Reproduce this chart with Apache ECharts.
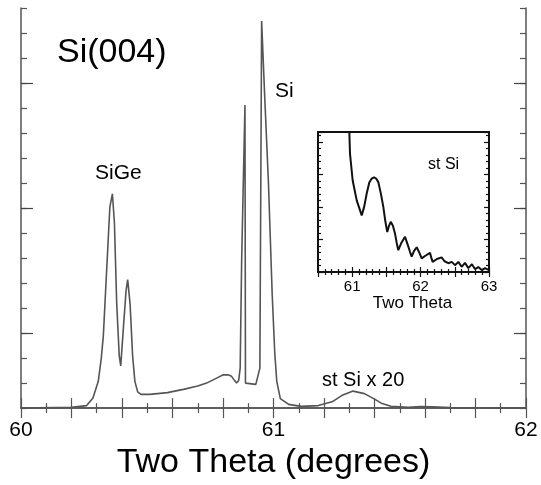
<!DOCTYPE html>
<html><head><meta charset="utf-8">
<script src="https://cdn.jsdelivr.net/npm/echarts@6/dist/echarts.min.js"></script>
<style>html,body{margin:0;padding:0;background:#fff}#c{width:541px;height:485px}</style>
</head><body><div id="c"></div>
<script>
// Main scan: two-theta (degrees) and intensity (arbitrary units)
const mainX = [60.00,60.20,60.26,60.285,60.306,60.318,60.326,60.339,60.352,60.362,60.37,60.379,60.389,60.395,60.405,60.416,60.4225,60.432,60.442,60.451,60.462,60.475,60.51,60.58,60.643,60.70,60.735,60.775,60.801,60.82,60.834,60.846,60.854,60.862,60.868,60.874,60.887,60.889,60.93,60.946,60.953,60.965,60.98,60.995,61.005,61.013,61.027,61.06,61.109,61.177,61.232,61.27,61.315,61.36,61.397,61.43,61.465,61.534,61.58,61.63,61.70,62.00];
const mainY = [0.0,0.03,0.1,0.4,1.07,2.0,2.88,5.47,8.05,8.57,7.4,4.19,2.1,1.69,3.14,4.69,5.14,4.17,2.1,1.07,0.65,0.55,0.55,0.62,0.75,0.88,1.0,1.2,1.33,1.33,1.27,1.1,1.0,1.1,1.6,5.98,12.12,1.0,0.95,1.6,15.48,12.5,9.0,4.5,2.2,1.07,0.38,0.15,0.07,0.1,0.25,0.5,0.68,0.58,0.38,0.18,0.07,0.03,0.06,0.05,0.02,0.0];
// Inset: st Si fringes
const insetX = [60.95,60.958,60.968,61.007,61.066,61.139,61.175,61.212,61.25,61.285,61.319,61.35,61.382,61.42,61.455,61.485,61.513,61.535,61.563,61.595,61.626,61.65,61.674,61.72,61.772,61.81,61.845,61.869,61.905,61.943,61.98,62.016,62.07,62.137,62.155,62.176,62.24,62.307,62.35,62.405,62.455,62.503,62.552,62.60,62.649,62.698,62.75,62.795,62.844,62.893,62.942,63.0];
const insetY = [5.0,4.3,3.63,2.81,2.2,1.74,2.0,2.41,2.75,2.87,2.91,2.87,2.76,2.4,2.0,1.55,1.23,1.4,1.54,1.42,1.18,0.9,0.67,0.9,1.08,0.85,0.62,0.47,0.65,0.76,0.6,0.42,0.5,0.59,0.45,0.31,0.4,0.45,0.33,0.27,0.31,0.21,0.31,0.16,0.28,0.12,0.24,0.09,0.15,0.06,0.12,0.06];
const mainXLabels = [60, 61, 62];
const insetXLabels = [61, 62, 63];
const mainLongYTicks = [3, 8, 13];

const FONT = '"Liberation Sans", Arial, Helvetica, sans-serif';
const chart = echarts.init(document.getElementById('c'));

function xAx(grid, pos, min, max, interval, tickLen, minorLen, minorSplit, labels, fs, margin, lc, lw) {
  return {
    type: 'value', gridIndex: grid, position: pos, min: min, max: max, interval: interval,
    axisLine: {show: true, lineStyle: {color: lc, width: lw}}, splitLine: {show: false},
    axisTick: {show: true, inside: true, length: tickLen, lineStyle: {color: lc, width: 1.2}},
    minorTick: {show: true, splitNumber: minorSplit, length: minorLen, lineStyle: {color: lc, width: 1.2}},
    axisLabel: labels ? {show: true, fontFamily: FONT, fontSize: fs, color: '#000', margin: margin,
      showMinLabel: true, showMaxLabel: true,
      formatter: v => labels.indexOf(Math.round(v * 1000) / 1000) >= 0 ? String(Math.round(v)) : ''} : {show: false}
  };
}
function yAx(grid, pos, min, max, interval, tickLen, minorLen, minorSplit, lc, lw) {
  return {
    type: 'value', gridIndex: grid, position: pos, min: min, max: max, interval: interval,
    axisLine: {show: true, lineStyle: {color: lc, width: lw}}, splitLine: {show: false}, axisLabel: {show: false},
    axisTick: {show: true, inside: true, length: tickLen, lineStyle: {color: lc, width: 1.2}},
    minorTick: {show: minorSplit > 0, splitNumber: minorSplit || 5, length: minorLen, lineStyle: {color: lc, width: 1.2}}
  };
}
function yLong(pos) {
  return {
    type: 'value', gridIndex: 0, position: pos, min: 0, max: 16,
    axisLine: {show: false}, splitLine: {show: false}, axisLabel: {show: false},
    axisTick: {show: true, inside: true, length: 12, customValues: mainLongYTicks, lineStyle: {color: '#444', width: 1.2}}
  };
}

const xMainBottom = xAx(0, 'bottom', 60, 62, 0.2, 10, 5, 2, mainXLabels, 21, 12, '#555', 1.5);
xMainBottom.name = 'Two Theta (degrees)';
xMainBottom.nameLocation = 'middle';
xMainBottom.nameGap = 28;
xMainBottom.nameTextStyle = {fontFamily: FONT, fontSize: 34, color: '#000', verticalAlign: 'top'};
const xInsetBottom = xAx(1, 'bottom', 60.5, 63, 0.5, 5, 3, 5, insetXLabels, 15, 7, '#111', 2);
xInsetBottom.name = 'Two Theta';
xInsetBottom.nameLocation = 'middle';
xInsetBottom.nameGap = 21;
xInsetBottom.nameTextStyle = {fontFamily: FONT, fontSize: 17, color: '#000', verticalAlign: 'top', padding: [0, 0, 0, 18]};

const option = {
  animation: false,
  backgroundColor: '#fff',
  grid: [
    {left: 21, right: 15, top: 8, bottom: 64},
    {left: 318, width: 171, top: 132, height: 140, show: true, borderColor: '#111', borderWidth: 2, backgroundColor: 'transparent'}
  ],
  xAxis: [
    xMainBottom,
    xAx(0, 'top', 60, 62, 0.2, 10, 5, 2, null, 0, 0, '#555', 1.5),
    xInsetBottom,
    xAx(1, 'top', 60.5, 63, 0.5, 5, 3, 5, null, 0, 0, '#111', 2)
  ],
  yAxis: [
    yAx(0, 'left', 0, 16, 1, 6, 0, 0, '#555', 1.5),
    yAx(0, 'right', 0, 16, 1, 6, 0, 0, '#555', 1.5),
    yLong('left'),
    yLong('right'),
    yAx(1, 'left', 0, 4.3, 1, 5, 3, 5, '#111', 2),
    yAx(1, 'right', 0, 4.3, 1, 5, 3, 5, '#111', 2)
  ],
  series: [
    {type: 'line', xAxisIndex: 0, yAxisIndex: 0, showSymbol: false, symbol: 'none', clip: true,
     lineStyle: {color: '#555', width: 1.6}, data: mainX.map((x, i) => [x, mainY[i]])},
    {type: 'line', xAxisIndex: 2, yAxisIndex: 4, showSymbol: false, symbol: 'none', clip: true,
     lineStyle: {color: '#111', width: 2}, data: insetX.map((x, i) => [x, insetY[i]])}
  ],
  graphic: [
    {type: 'text', left: 57, top: 36, style: {text: 'Si(004)', fontFamily: FONT, fontSize: 34, fill: '#000'}},
    {type: 'text', left: 95, top: 163, style: {text: 'SiGe', fontFamily: FONT, fontSize: 21, fill: '#000'}},
    {type: 'text', left: 275, top: 81, style: {text: 'Si', fontFamily: FONT, fontSize: 21, fill: '#000'}},
    {type: 'text', left: 322, top: 370, style: {text: 'st Si x 20', fontFamily: FONT, fontSize: 20, fill: '#000'}},
    {type: 'text', left: 428, top: 157, style: {text: 'st Si', fontFamily: FONT, fontSize: 16, fill: '#000'}}
  ]
};
chart.setOption(option);
</script>
</body></html>
